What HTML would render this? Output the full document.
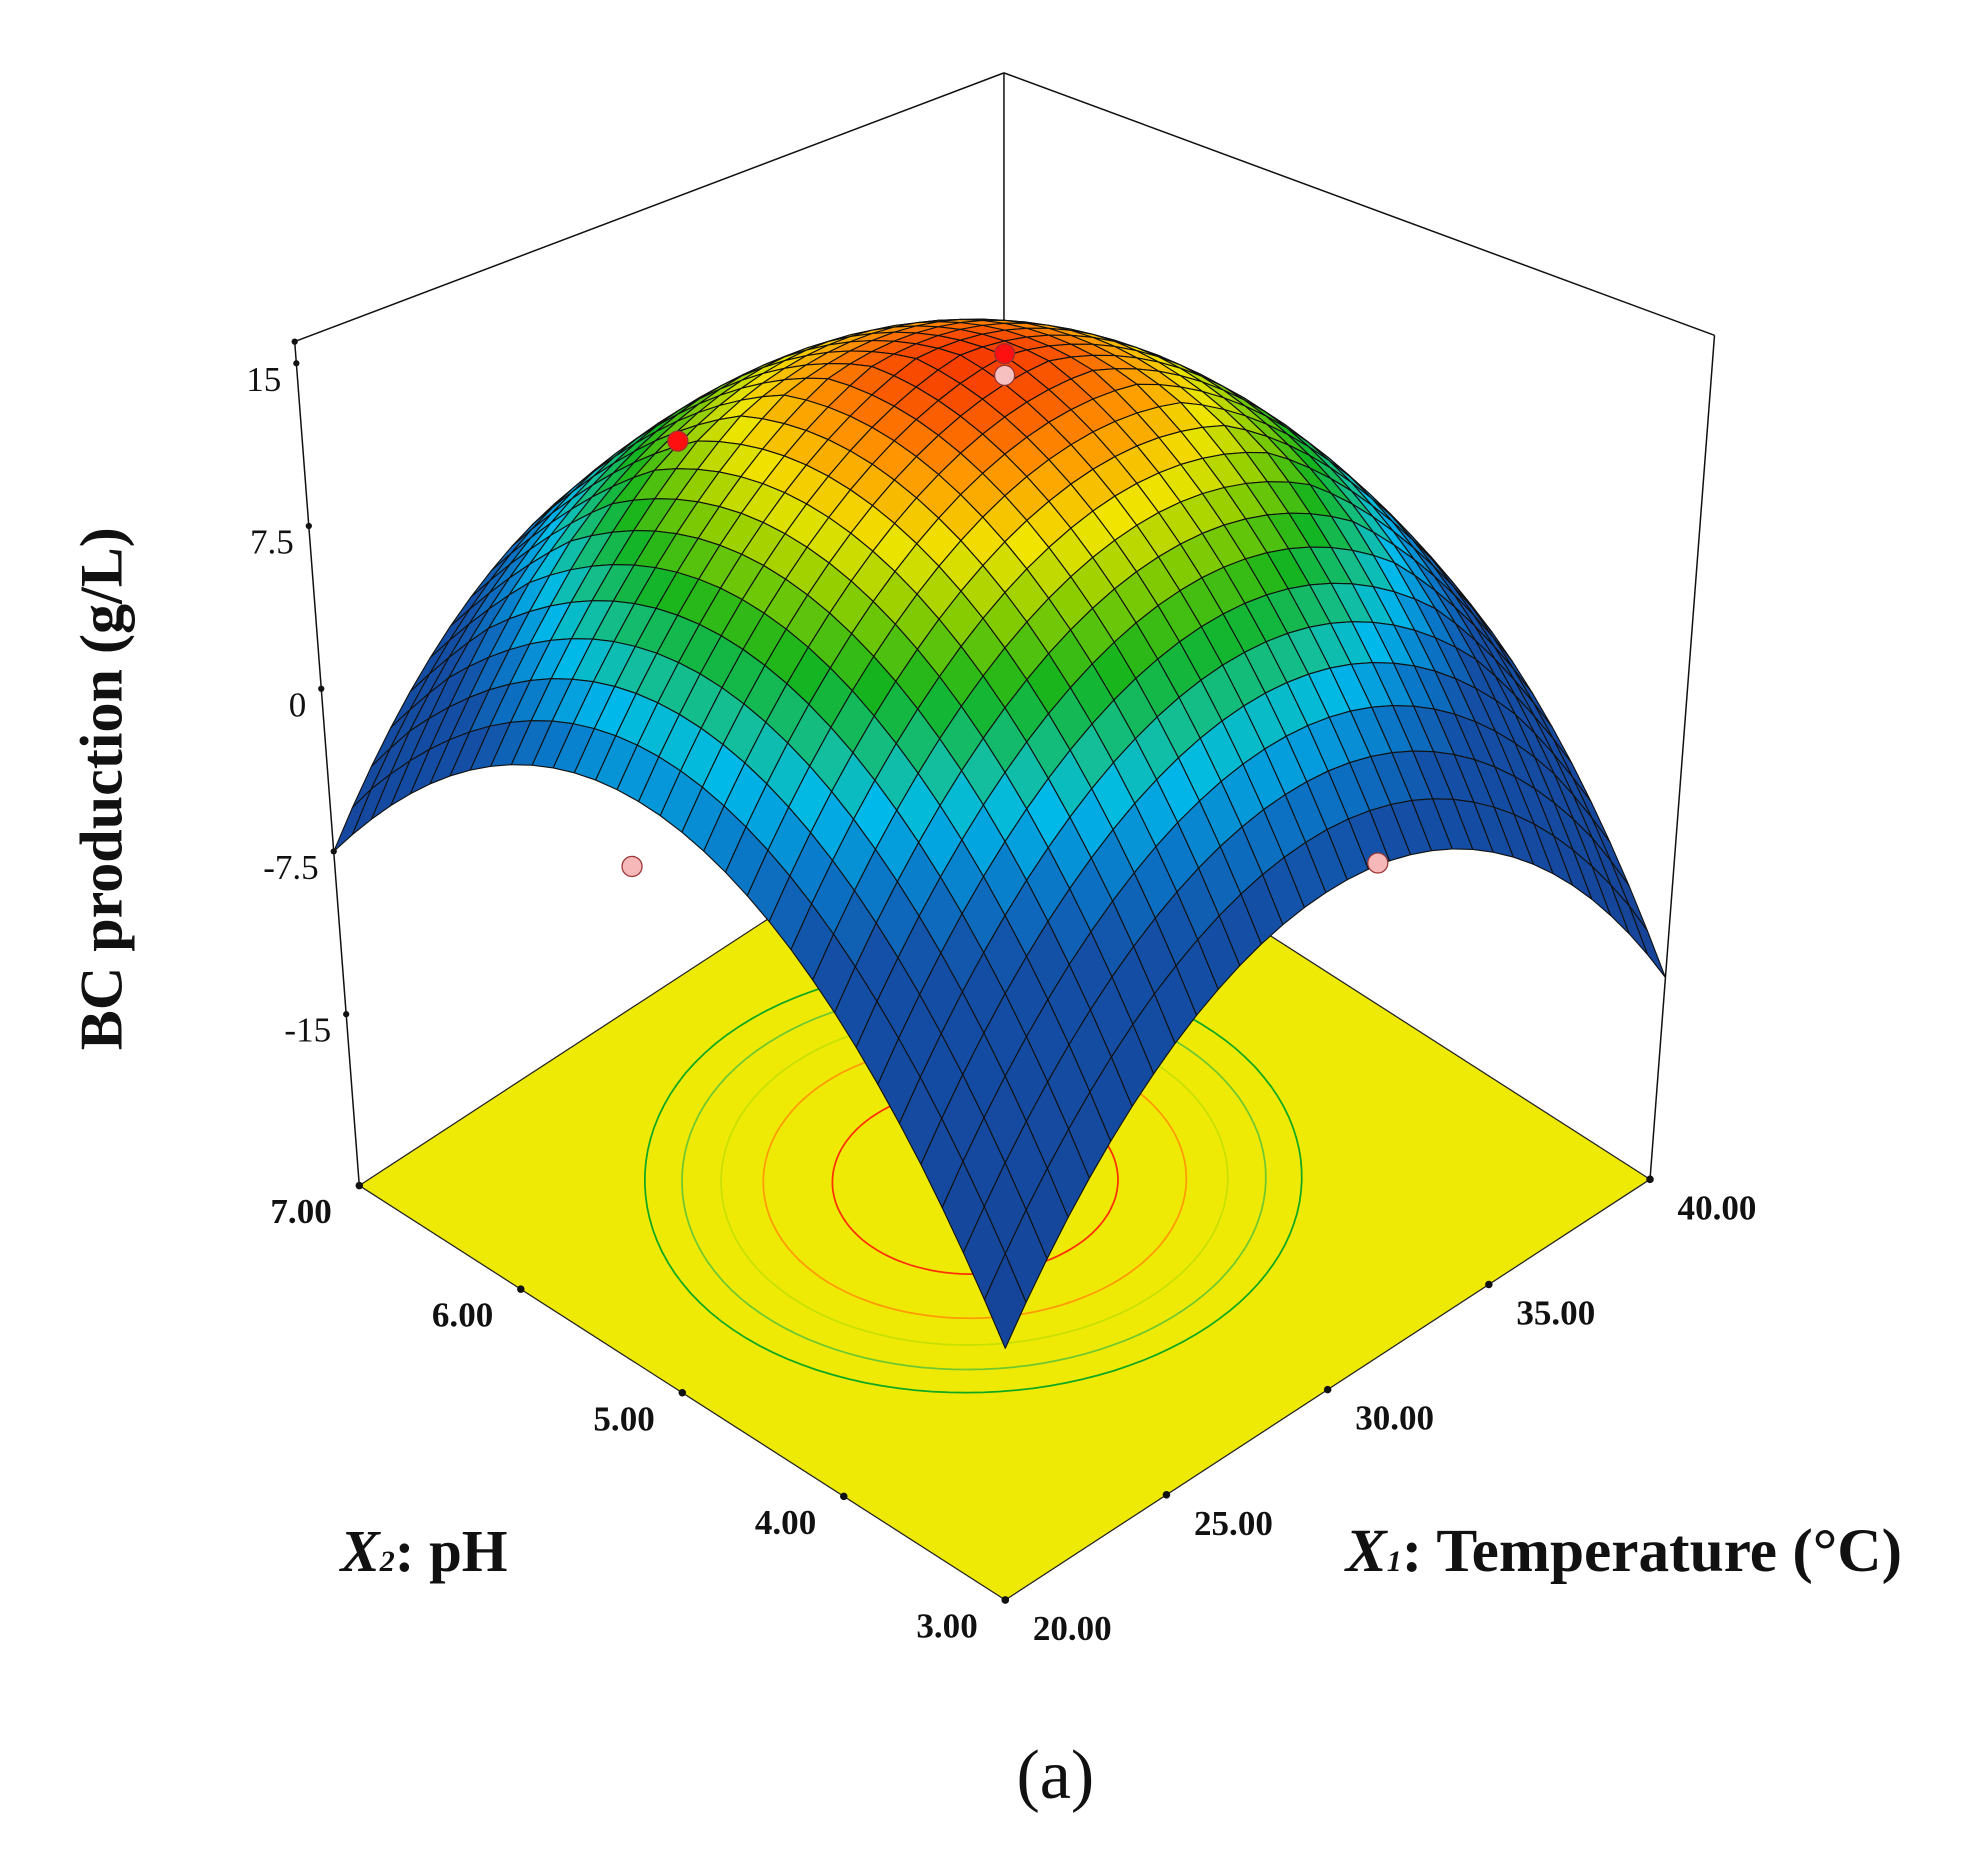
<!DOCTYPE html>
<html><head><meta charset="utf-8">
<style>
html,body{margin:0;padding:0;background:#fff;}
svg{display:block;}
text{font-family:"Liberation Serif",serif;fill:#111;}
</style></head>
<body>
<svg id="chart" width="1963" height="1866" viewBox="0 0 1568 1490.5" preserveAspectRatio="none" xmlns="http://www.w3.org/2000/svg">
<rect x="0" y="0" width="1568" height="1490.5" fill="#ffffff"/>
<g id="floor"></g>
<g id="contours"></g>
<g id="box"></g>
<g id="surface"></g>
<g id="points"></g>
<g id="labels"></g>
<text x="0" y="0" transform="translate(97,630) rotate(-90)" text-anchor="middle" font-size="48" font-weight="bold">BC production (g/L)</text>
<text x="272" y="1255" font-size="47" font-weight="bold"><tspan font-style="italic">X</tspan><tspan font-size="24" font-style="italic">2</tspan>: pH</text>
<text x="1075" y="1255" font-size="49" font-weight="bold"><tspan font-style="italic">X</tspan><tspan font-size="24" font-style="italic">1</tspan>: Temperature (°C)</text>
<text x="843" y="1436" text-anchor="middle" font-size="56">(a)</text>
</svg>
<script>
// Data: temperature (X1) and pH (X2) grid, predicted BC production (g/L)
const tempValues = [20, 25, 30, 35, 40];
const phValues = [3, 4, 5, 6, 7];
// rows = pH, columns = temperature
const zRow_pH3 = [-11.3, -2.1, 0.6, -3.2, -13.6];
const zRow_pH4 = [-0.6, 8.6, 11.3, 7.5, -2.9];
const zRow_pH5 = [3.7, 12.6, 15.2, 11.5, 1.4];
const zRow_pH6 = [1.2, 10.0, 12.7, 9.0, -1.2];
const zRow_pH7 = [-7.5, 1.7, 4.4, 0.6, -9.8];
const zTicks = [-15, -7.5, 0, 7.5, 15];
const zTickLabels = ["-15", "-7.5", "0", "7.5", "15"];
const tempTickLabels = ["20.00", "25.00", "30.00", "35.00", "40.00"];
const phTickLabels = ["3.00", "4.00", "5.00", "6.00", "7.00"];
const contourLevels = [14, 12.5, 11.3, 10, 8.6];
const contourColors = ["#ff3000", "#ff9a00", "#c8e000", "#70c830", "#10a820"];
const designTemp = [30, 30, 27.6, 20, 30.9];
const designPH = [5, 5, 6.4, 5.18, 3];
const designZ = [15.3, 14.3, 8.2, 0.5, 0.5];
const designColor = ["#ff1010", "#f6c0c0", "#ff1010", "#f6b8b8", "#f6b8b8"];

const zGrid = [zRow_pH3, zRow_pH4, zRow_pH5, zRow_pH6, zRow_pH7];
const NS = "http://www.w3.org/2000/svg";
const ZMIN = -22.9, ZMAX = 16.0, PXZ = 17.33;

function tScale(t){return (t - tempValues[0])/(tempValues[tempValues.length-1]-tempValues[0]);}
function pScale(p){return (p - phValues[0])/(phValues[phValues.length-1]-phValues[0]);}
function project(tp, pp, z){
  const fx = 803 + tp*515 - pp*516;
  const fy = 1278 - tp*336 - pp*331;
  const d = (tp+pp)/2;
  const s = 1 - 0.36*Math.max(0, d-0.5);
  const h = (z - ZMIN)*PXZ*s;
  const f = 1 + 0.1*h/674;
  return [803 + (fx-803)*f, fy - h];
}
function lagr(nodes, vals, x){
  let s=0;
  for(let i=0;i<nodes.length;i++){
    let L=1;
    for(let j=0;j<nodes.length;j++){ if(j!==i) L*=(x-nodes[j])/(nodes[i]-nodes[j]); }
    s+=L*vals[i];
  }
  return s;
}
const nodesT = tempValues.map(tScale), nodesP = phValues.map(pScale);
function zAt(tp, pp){
  const rowVals = zGrid.map(r => lagr(nodesT, r, tp));
  return lagr(nodesP, rowVals, pp);
}
function mk(tag, attrs, parent){
  const e = document.createElementNS(NS, tag);
  for(const k in attrs) e.setAttribute(k, attrs[k]);
  parent.appendChild(e); return e;
}
function ptsStr(a){return a.map(p=>p[0].toFixed(1)+","+p[1].toFixed(1)).join(" ");}

// Floor
const floorG = document.getElementById('floor');
const fl = mk('polygon', {points: ptsStr([project(0,0,ZMIN),project(1,0,ZMIN),project(1,1,ZMIN),project(0,1,ZMIN)]), fill:'#eeea06', stroke:'#222', 'stroke-width':1}, floorG);



// Contours
const contG = document.getElementById('contours');
let peak=[0.5,0.5], best=-1e9;
for(let a=0;a<=60;a++)for(let b=0;b<=60;b++){const z=zAt(a/60,b/60); if(z>best){best=z;peak=[a/60,b/60];}}
contourLevels.forEach((lv, k) => {
  const pts=[];
  for(let s=0;s<=120;s++){
    const ang = s/120*2*Math.PI, dx=Math.cos(ang), dy=Math.sin(ang);
    let lo=0, hi=0.8;
    for(let it=0;it<30;it++){const m=(lo+hi)/2; if(zAt(peak[0]+dx*m, peak[1]+dy*m)>lv) lo=m; else hi=m;}
    pts.push(project(peak[0]+dx*lo, peak[1]+dy*lo, ZMIN));
  }
  const c = mk('polyline', {points: ptsStr(pts), fill:'none', stroke: contourColors[k], 'stroke-width':1.4}, contG);
  
  
});

// Box
const boxG = document.getElementById('box');
[[0,1],[1,0],[1,1]].forEach(c => {
  const a = project(c[0],c[1],ZMIN), b = project(c[0],c[1],ZMAX);
  const l = mk('line', {x1:a[0],y1:a[1],x2:b[0],y2:b[1],stroke:'#111','stroke-width':1.2}, boxG);
  
  
});
[[[0,1],[1,1]],[[1,0],[1,1]]].forEach(e => {
  const a = project(e[0][0],e[0][1],ZMAX), b = project(e[1][0],e[1][1],ZMAX);
  const l = mk('line', {x1:a[0],y1:a[1],x2:b[0],y2:b[1],stroke:'#111','stroke-width':1.2}, boxG);
  
  
});

// Colormap
const cStops = [[-14,[22,66,150]],[1,[20,78,165]],[3.5,[10,120,200]],[5.5,[0,185,235]],[7,[20,190,150]],[9,[20,180,30]],[11,[140,205,0]],[12.5,[240,228,0]],[14,[255,150,0]],[15.5,[245,40,0]]];
function cmap(z){
  if(z<=cStops[0][0]) return 'rgb('+cStops[0][1]+')';
  for(let i=1;i<cStops.length;i++){
    if(z<=cStops[i][0]){
      const a=cStops[i-1], b=cStops[i], f=(z-a[0])/(b[0]-a[0]);
      return 'rgb('+a[1].map((v,j)=>Math.round(v+(b[1][j]-v)*f)).join(',')+')';
    }
  }
  return 'rgb('+cStops[cStops.length-1][1]+')';
}

// Surface
const surfG = document.getElementById('surface');
const N = 32;
const cells=[];
for(let i=0;i<N;i++)for(let j=0;j<N;j++){cells.push([i,j]);}
cells.sort((a,b)=>(b[0]+b[1])-(a[0]+a[1]));
cells.forEach(([i,j])=>{
  const t0=i/N,t1=(i+1)/N,p0=j/N,p1=(j+1)/N;
  const z00=zAt(t0,p0), z10=zAt(t1,p0), z11=zAt(t1,p1), z01=zAt(t0,p1);
  const zc=(z00+z10+z11+z01)/4;
  const q = mk('polygon', {points: ptsStr([project(t0,p0,z00),project(t1,p0,z10),project(t1,p1,z11),project(t0,p1,z01)]), fill:cmap(zc), stroke:'#111','stroke-width':0.9,'stroke-linejoin':'round'}, surfG);
  
  
});

// Design points
const ptG = document.getElementById('points');
designTemp.forEach((t,k)=>{
  const pos = project(tScale(t), pScale(designPH[k]), designZ[k]);
  const c = mk('circle', {cx:pos[0], cy:pos[1], r:8, fill: designColor[k], stroke:'#933', 'stroke-width':1}, ptG);
  
  
});

// Labels and ticks
const labG = document.getElementById('labels');
zTicks.forEach((z,k)=>{
  const p = project(0,1,z);
  const d = mk('circle', {cx:p[0], cy:p[1], r:2.5, fill:'#111'}, labG);
  
  
  const t = mk('text', {x:p[0]-12, y:p[1]+22, 'text-anchor':'end', 'font-size':28}, labG);
  t.textContent = zTickLabels[k];
  
  
});
const topDot = project(0,1,ZMAX);
mk('circle', {cx:topDot[0], cy:topDot[1], r:2.5, fill:'#111'}, labG);
phValues.forEach((v,k)=>{
  const p = project(0,pScale(v),ZMIN);
  const d = mk('circle', {cx:p[0], cy:p[1], r:3, fill:'#111'}, labG);
  
  
  const t = mk('text', {x:p[0]-22, y:p[1]+30, 'text-anchor':'end', 'font-size':28, 'font-weight':'bold'}, labG);
  t.textContent = phTickLabels[k];
  
  
});
tempValues.forEach((v,k)=>{
  const p = project(tScale(v),0,ZMIN);
  const d = mk('circle', {cx:p[0], cy:p[1], r:3, fill:'#111'}, labG);
  
  
  const t = mk('text', {x:p[0]+22, y:p[1]+32, 'text-anchor':'start', 'font-size':28, 'font-weight':'bold'}, labG);
  t.textContent = tempTickLabels[k];
  
  
});
</script>
</body></html>
